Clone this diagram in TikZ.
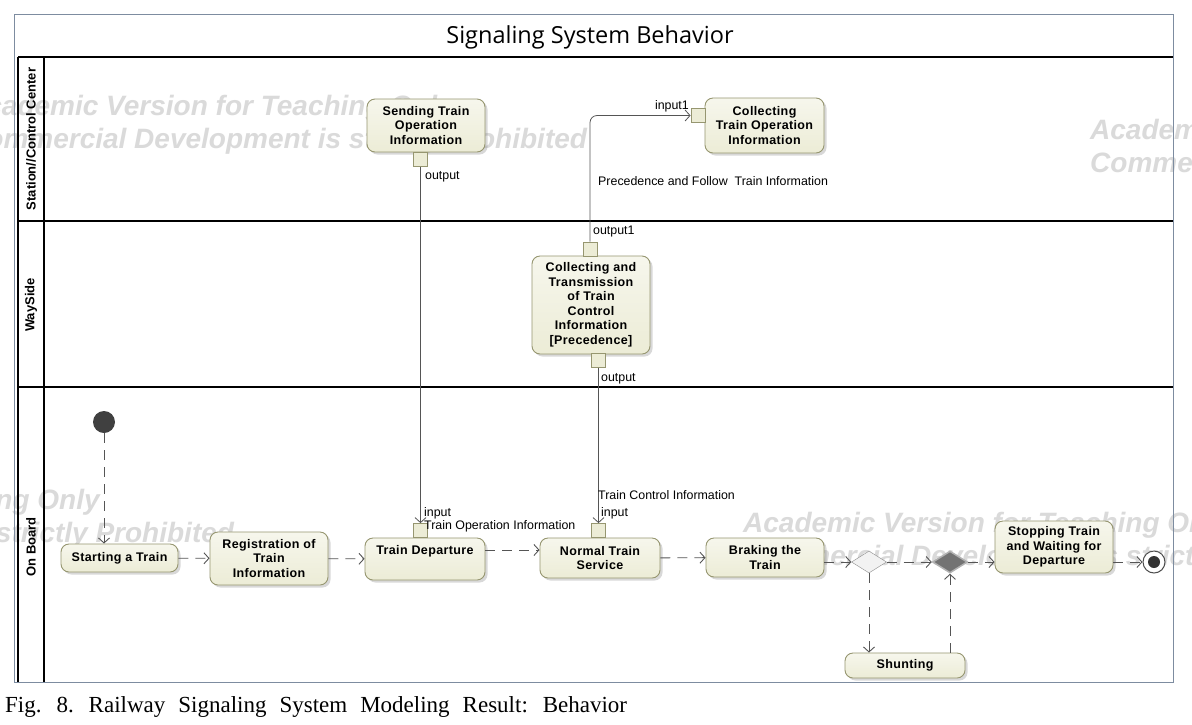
\documentclass[tikz,border=0pt]{standalone}
\usepackage{fontspec}
\setmainfont{Liberation Sans}
\newfontfamily\actfont[LetterSpace=3]{Liberation Sans}
\newfontfamily\titlefont{Open Sans}
\newfontfamily\capfont{Liberation Serif}
\usetikzlibrary{arrows.meta,positioning,shadows,shapes.geometric}
\definecolor{actfill}{RGB}{236,236,214}
\definecolor{actedge}{RGB}{150,150,112}
\definecolor{flowgray}{RGB}{85,85,85}
\definecolor{framecol}{RGB}{125,140,160}
\definecolor{wmark}{RGB}{218,218,218}

\begin{document}
\begin{tikzpicture}[x=1pt,y=-1pt,
    act/.style={draw=actedge, line width=0.9pt, rounded corners=8pt,
        top color=actfill!45!white, bottom color=actfill,
        drop shadow={shadow xshift=2.5pt, shadow yshift=-2.5pt, opacity=0.3},
        font=\actfont\bfseries\fontsize{12.5}{14.5}\selectfont, align=center, inner sep=0pt},
    pin/.style={draw=actedge, line width=0.8pt, fill=actfill, minimum size=14pt, inner sep=0pt},
    cflow/.style={draw=flowgray, line width=0.9pt, dash pattern=on 10pt off 7pt,
        -{Straight Barb[length=5pt,width=11pt,line width=0.9pt]}},
    oflow/.style={draw=flowgray, line width=0.8pt,
        -{Straight Barb[length=5pt,width=11pt,line width=0.8pt]}},
    lbl/.style={font=\fontsize{12.4}{13}\selectfont, inner sep=0pt},
    lane/.style={font=\bfseries\fontsize{13}{14}\selectfont, rotate=90, inner sep=0pt},
    wm/.style={font=\bfseries\itshape\fontsize{28}{33}\selectfont, text=wmark, anchor=base west, inner sep=0pt},
    ]
    \useasboundingbox (0,0) rectangle (1192,724);
    \fill[white] (0,0) rectangle (1192,724);

    % watermark of the modelling tool
    \node[wm] (wm-a1) at (-34,115) {Academic Version for Teaching Only};
    \node[wm] (wm-a2) at (-34,148) {Commercial Development is strictly Prohibited};
    \node[wm] (wm-b1) at (1090,139) {Academic Version for Teaching Only};
    \node[wm] (wm-b2) at (1090,172) {Commercial Development is strictly Prohibited};
    \node[wm] (wm-c1) at (-387,509) {Academic Version for Teaching Only};
    \node[wm] (wm-c2) at (-387,542) {Commercial Development is strictly Prohibited};
    \node[wm] (wm-d1) at (743,532) {Academic Version for Teaching Only};
    \node[wm] (wm-d2) at (743,565) {Commercial Development is strictly Prohibited};

    % frame and swimlanes
    \draw[framecol, line width=1pt] (14,14) rectangle (1173,682);
    \node[font=\titlefont\fontsize{23.5}{26}\selectfont] (title) at (590,37) {Signaling System Behavior};
    \draw[line width=2pt] (18,57) -- (1173,57);
    \draw[line width=2pt] (18,221) -- (1173,221);
    \draw[line width=2pt] (18,387) -- (1173,387);
    \draw[line width=2pt] (18,57) -- (18,682);
    \draw[line width=2pt] (44,57) -- (44,682);
    \node[lane] (lane-scc) at (31,139) {Station//Control Center};
    \node[lane] (lane-ws) at (31,305) {WaySide};
    \node[lane] (lane-ob) at (31,547) {On Board};

    % actions
    \node[act, minimum width=118pt, minimum height=53pt] (send) at (426,125.5) {Sending Train\\Operation\\Information};
    \node[act, minimum width=119pt, minimum height=55pt] (cto) at (764.5,125.5) {Collecting\\Train Operation\\Information};
    \node[act, minimum width=118pt, minimum height=98pt] (ctc) at (591,305) {Collecting and\\Transmission\\of Train\\Control\\Information\\{[Precedence]}};
    \node[act, minimum width=117pt, minimum height=28pt] (start) at (119.5,558) {Starting a Train};
    \node[act, minimum width=118pt, minimum height=53pt] (reg) at (269,558.5) {Registration of\\Train\\Information};
    \node[act, minimum width=120pt, minimum height=42pt] (dep) at (425,559) {Train Departure\\[4pt]\mbox{}};
    \node[act, minimum width=120pt, minimum height=40pt] (nts) at (600,558) {Normal Train\\Service};
    \node[act, minimum width=118pt, minimum height=39pt] (brk) at (765,557.5) {Braking the\\Train};
    \node[act, minimum width=118pt, minimum height=52pt] (stop) at (1054,547) {Stopping Train\\and Waiting for\\Departure};
    \node[act, minimum width=120pt, minimum height=25pt] (shunt) at (905,665.5) {Shunting};

    \node[circle, fill=black!75, minimum size=22pt, inner sep=0pt] (init) at (104,422) {};
    \node[circle, draw=black!70, line width=1pt, fill=white, minimum size=22pt, inner sep=0pt] (fin) at (1154,562) {};
    \node[circle, fill=black!80, minimum size=12pt, inner sep=0pt] (fin-dot) at (fin) {};
    \node[diamond, draw=black!45, fill=black!5, minimum width=35pt, minimum height=22pt, inner sep=0pt] (dec) at (869,562) {};
    \node[diamond, draw=black!30, line width=1.5pt, fill=black!55, minimum width=35pt, minimum height=22pt, inner sep=0pt] (mrg) at (950,562) {};

    % pins
    \node[pin] (send-out) at (420.5,159.5) {};
    \node[pin] (dep-in) at (420.5,530.5) {};
    \node[pin] (nts-in) at (598.5,530.5) {};
    \node[pin] (ctc-out1) at (590,249) {};
    \node[pin] (ctc-out) at (598.5,360.5) {};
    \node[pin] (cto-in) at (698,115.5) {};

    % object flows
    \draw[oflow] (send-out) -- (dep-in);
    \draw[oflow] (ctc-out) -- (nts-in);
    \draw[oflow, rounded corners=7pt] (ctc-out1) |- (cto-in);

    % control flows
    \draw[cflow] (init) -- (init |- start.north);
    \draw[cflow] (start) -- (reg);
    \draw[cflow] (reg) -- (dep);
    \draw[cflow] ([yshift=9pt]dep.east) -- ([yshift=9pt]dep.east -| nts.west);
    \draw[cflow] (nts) -- (brk);
    \draw[cflow] (brk.east |- dec) -- (dec);
    \draw[cflow] (dec) -- (mrg);
    \draw[cflow] (mrg) -- (mrg -| stop.west);
    \draw[cflow] (stop.east |- fin) -- (fin);
    \draw[cflow] (dec) -- (dec |- shunt.north);
    \draw[cflow] (mrg |- shunt.north) -- (mrg);

    % pin and flow labels
    \node[lbl, anchor=west] (l-sendout) at (425,177) {output};
    \node[lbl, anchor=west] (l-depin) at (424,513) {input};
    \node[lbl, anchor=west] (l-toi) at (424,526) {Train Operation Information};
    \node[lbl, anchor=west] (l-tci) at (598,495) {Train Control Information};
    \node[lbl, anchor=west] (l-ntsin) at (601,513) {input};
    \node[lbl, anchor=west] (l-ctcout) at (601,379) {output};
    \node[lbl, anchor=west] (l-out1) at (593,232) {output1};
    \node[lbl, anchor=east] (l-in1) at (689,106) {input1};
    \node[lbl, anchor=west] (l-pft) at (598,181) {Precedence and Follow\ \ Train Information};

    % caption
    \node[anchor=west, inner sep=0pt, font=\capfont\fontsize{23}{26}\selectfont] (cap) at (5,707) {\spaceskip=13pt\relax Fig. 8. Railway Signaling System Modeling Result: Behavior};
\end{tikzpicture}
\end{document}
